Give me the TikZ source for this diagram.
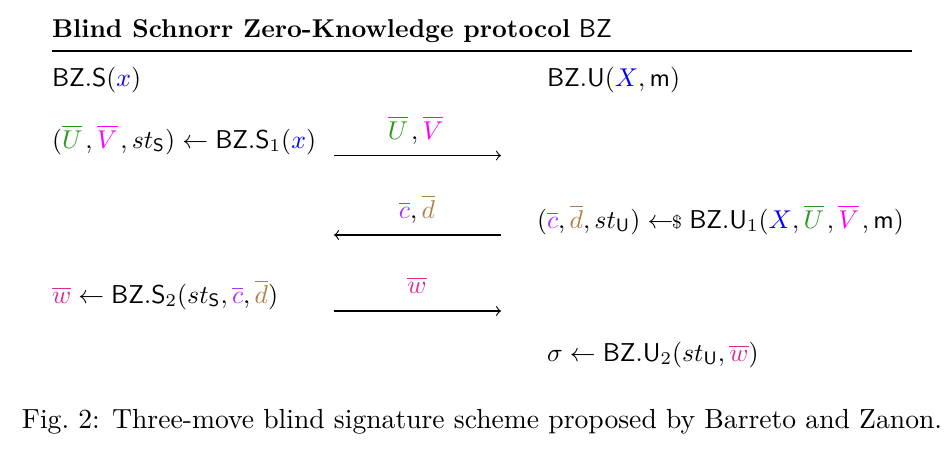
\documentclass[tikz,border=0pt]{standalone}
\usepackage{amsmath}
\usepackage{graphicx}
\usepackage{xcolor}
\definecolor{cU}{RGB}{40,155,30}
\definecolor{cV}{RGB}{255,0,255}
\definecolor{cX}{RGB}{0,0,255}
\definecolor{cC}{RGB}{170,50,255}
\definecolor{cD}{RGB}{175,125,70}
\definecolor{cW}{RGB}{225,40,150}
\newcommand{\uU}{\textcolor{cU}{\overline{U}}\mkern2mu}
\newcommand{\vV}{\textcolor{cV}{\overline{V}}\mkern2mu}
\newcommand{\cC}{\textcolor{cC}{\overline{c}}}
\newcommand{\dD}{\textcolor{cD}{\overline{d}}}
\newcommand{\wW}{\textcolor{cW}{\overline{w}}}
\newcommand{\xx}{\textcolor{cX}{x}}
\newcommand{\XX}{\textcolor{cX}{X}}
\newcommand{\smp}{\mathrel{\leftarrow\mkern-6mu{\scriptstyle\$}}}
\newcommand{\pt}[1]{\scalebox{0.933}{#1}}
\begin{document}
\begin{tikzpicture}[x=0.362pt,y=-0.362pt,
  txt/.style={anchor=base west, inner sep=0pt, outer sep=0pt},
  lbl/.style={anchor=base, inner sep=0pt, outer sep=0pt},
  msg/.style={->, line width=0.4pt}]
\useasboundingbox (0,0) rectangle (944,461);
\node[txt] (title) at (52,37) {\pt{\textbf{Blind Schnorr Zero-Knowledge protocol} $\mathsf{BZ}$}};
\coordinate (rl) at (52,51);
\coordinate (rr) at (912,51);
\draw[line width=0.5pt] (rl) -- (rr);
\node[txt] (s0) at (52,86) {\pt{$\mathsf{BZ.S}(\xx)$}};
\node[txt] (u0) at (547,86) {\pt{$\mathsf{BZ.U}(\XX, \mathsf{m})$}};
\node[txt] (s1) at (52,148) {\pt{$(\uU, \vV, st_{\mathsf{S}}) \gets \mathsf{BZ.S}_1(\xx)$}};
\coordinate (a1s) at (334,155.5);
\coordinate (a1e) at (501,155.5);
\draw[msg] (a1s) -- (a1e);
\node[lbl] (l1) at (417,139) {\pt{$\uU, \vV$}};
\node[lbl] (l2) at (417,218) {\pt{$\cC, \dD$}};
\coordinate (a2s) at (501,235);
\coordinate (a2e) at (334,235);
\draw[msg] (a2s) -- (a2e);
\node[txt] (u1) at (537,228) {\pt{$(\cC, \dD, st_{\mathsf{U}}) \smp \mathsf{BZ.U}_1(\XX, \uU, \vV, \mathsf{m})$}};
\node[txt] (s2) at (52,303) {\pt{$\wW \gets \mathsf{BZ.S}_2(st_{\mathsf{S}}, \cC, \dD)$}};
\node[lbl] (l3) at (417,293) {\pt{$\wW$}};
\coordinate (a3s) at (334,311);
\coordinate (a3e) at (501,311);
\draw[msg] (a3s) -- (a3e);
\node[txt] (u2) at (547,361) {\pt{$\sigma \gets \mathsf{BZ.U}_2(st_{\mathsf{U}}, \wW)$}};
\node[txt] (cap) at (22,428) {Fig.~2: Three-move blind signature scheme proposed by Barreto and Zanon.};
\end{tikzpicture}
\end{document}
